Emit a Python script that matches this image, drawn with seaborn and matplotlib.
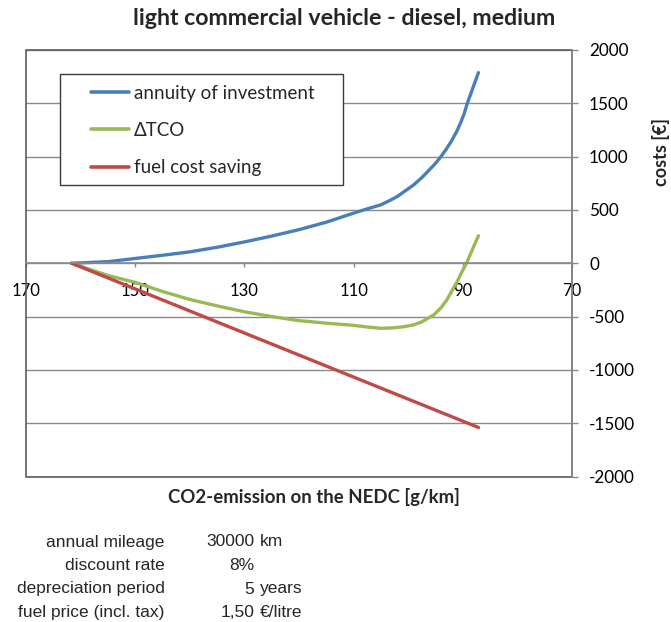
import matplotlib
matplotlib.use("Agg")
import matplotlib.pyplot as plt
import numpy as np
import pandas as pd
import seaborn as sns
from matplotlib.patches import Rectangle
from matplotlib.lines import Line2D

# CO2 emission on the NEDC [g/km] and the corresponding costs [€]
annuity_co2 = [161.7, 155, 150, 145, 140, 135, 130, 125, 120, 115, 110, 107.5,
               105, 103.5, 102, 100.5, 99, 97.5, 96.5, 95, 93.9, 93, 92, 91,
               90.4, 89.7, 89.1, 88.5, 87.8, 87.1]
annuity = [0, 15, 45, 75, 107, 150, 200, 255, 315, 385, 470, 510,
           548, 585, 625, 680, 734, 802, 855, 935, 1006, 1070, 1150, 1245,
           1313, 1405, 1507, 1590, 1690, 1788]

tco_co2 = [161.7, 155, 150, 145, 140, 135, 130, 125, 120, 115, 110, 107.5,
           105, 103, 101, 99, 97.5, 96.5, 95.3, 94, 92.9, 92, 91, 90.2,
           89.3, 88.2, 87.1]
delta_tco = [0, -115, -180, -265, -340, -400, -455, -500, -538, -562, -582, -598,
             -610, -607, -597, -578, -550, -520, -485, -420, -344, -262, -172, -88,
             0, 130, 258]

fuel_co2 = [161.7, 87.1]
fuel_saving = [0, -1540]

series_names = ["annuity of investment", "ΔTCO", "fuel cost saving"]
series_colors = ["#4A7EBB", "#98B954", "#BE4B48"]

x_ticks = [170, 150, 130, 110, 90, 70]
y_ticks = [2000, 1500, 1000, 500, 0, -500, -1000, -1500, -2000]

param_labels = ["annual mileage", "discount rate", "depreciation period",
                "fuel price (incl. tax)"]
param_values = ["30000", "8%", "5", "1,50"]
param_units = ["km", "", "years", "€/litre"]

sns.set_theme(style="white")
plt.rcParams["font.family"] = ["Lato", "DejaVu Sans"]

W, H = 671, 622


def fx(px):
    return px / W


def fy(py):
    return 1 - py / H


df = pd.concat([
    pd.DataFrame({"co2": annuity_co2, "cost": annuity, "series": series_names[0]}),
    pd.DataFrame({"co2": tco_co2, "cost": delta_tco, "series": series_names[1]}),
    pd.DataFrame({"co2": fuel_co2, "cost": fuel_saving, "series": series_names[2]}),
], ignore_index=True)

fig = plt.figure(figsize=(W / 100, H / 100), dpi=100)
fig.patch.set_facecolor("white")
ax = fig.add_axes([fx(26.3), fy(476.5), (571.7 - 26.3) / W, (476.5 - 50) / H])
ax.set_facecolor("white")
ax.set_axisbelow(True)

palette = dict(zip(series_names, series_colors))
sns.lineplot(data=df, x="co2", y="cost", hue="series", hue_order=series_names,
             palette=palette, sort=False, estimator=None, legend=False,
             linewidth=2.4, ax=ax, zorder=2)
for ln in ax.lines:
    ln.set_solid_capstyle("round")
    ln.set_solid_joinstyle("round")

ax.set_xlim(170, 70)
ax.set_ylim(-2000, 2000)
ax.set_xticks(x_ticks)
ax.set_yticks(y_ticks)
ax.set_xticklabels([str(t) for t in x_ticks])
ax.set_yticklabels([str(t) for t in y_ticks])

# horizontal gridlines
ax.yaxis.grid(True, color="#8a8a8a", linewidth=1.0)
ax.xaxis.grid(False)

# plot area frame
frame = Rectangle((0, 0), 1, 1, transform=ax.transAxes, fill=False,
                  edgecolor="#5c5c5c", linewidth=1.2, clip_on=False, zorder=1)
ax.add_artist(frame)

# x axis crossing at zero, value axis on the right
for side in ["left", "top"]:
    ax.spines[side].set_visible(False)
ax.spines["bottom"].set_position(("data", 0))
ax.spines["bottom"].set_color("#8a8a8a")
ax.spines["bottom"].set_linewidth(1.2)
ax.spines["right"].set_color("#8a8a8a")
ax.spines["right"].set_linewidth(1.2)
ax.yaxis.tick_right()
ax.tick_params(axis="x", direction="out", length=3, width=1, color="#8a8a8a",
               pad=11, labelsize=12, labelcolor="black", bottom=True)
ax.tick_params(axis="y", direction="out", length=4.5, width=1, color="#8a8a8a",
               pad=8, labelsize=12.3, labelcolor="black", right=True, left=False)
ax.set_xlabel("")
ax.set_ylabel("")

# axis titles
fig.text(fx(313.5), fy(497), "CO2-emission on the NEDC [g/km]", ha="center",
         va="center", fontsize=13.4, fontweight="bold")
fig.text(fx(661.5), fy(152.5), "costs [€]", ha="center", va="center",
         rotation=90, fontsize=13, fontweight="bold")
fig.text(fx(344), fy(18.5), "light commercial vehicle - diesel, medium",
         ha="center", va="center", fontsize=16.7, fontweight="bold")

# legend box
box = Rectangle((fx(60), fy(185.3)), (343.3 - 60) / W, (185.3 - 73.7) / H,
                transform=fig.transFigure, facecolor="white",
                edgecolor="#3a3a3a", linewidth=1.0, clip_on=False, zorder=3)
ax.add_artist(box)
handles = [Line2D([0], [0], color=c, linewidth=2.6, solid_capstyle="round")
           for c in series_colors]
leg = ax.legend(handles, series_names, loc="upper left",
                bbox_to_anchor=(fx(90.7), fy(84.5)),
                bbox_transform=fig.transFigure, frameon=False, borderpad=0,
                borderaxespad=0, handlelength=2.05, handletextpad=0.25,
                labelspacing=1.09, fontsize=13.5)
leg.set_zorder(5)

# assumptions listed under the chart
row_y = [542, 565.5, 589, 612.5]
for lab, val, unit, yy in zip(param_labels, param_values, param_units, row_y):
    fig.text(fx(164.5), fy(yy), lab, ha="right", va="center", fontsize=12.5,
             family="Liberation Sans")
    fig.text(fx(254), fy(yy), val, ha="right", va="center", fontsize=12.5,
             family="Liberation Sans")
    if unit:
        fig.text(fx(259.5), fy(yy), unit, ha="left", va="center",
                 fontsize=12.5, family="Liberation Sans")

fig.savefig("out.png", dpi=100, facecolor="white")
